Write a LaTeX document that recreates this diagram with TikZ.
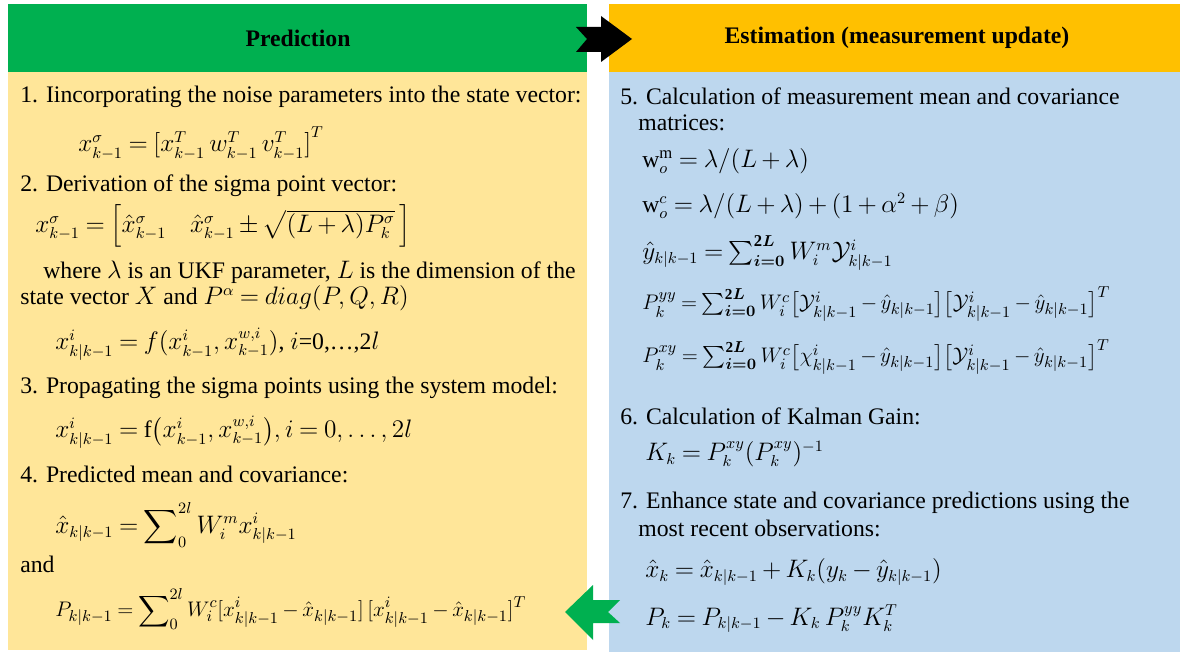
\documentclass[tikz,border=0pt]{standalone}
\usepackage{amsmath,amssymb}
\usepackage{fontspec}
\setmainfont{Liberation Serif}
\usetikzlibrary{positioning,calc}
\definecolor{predgreen}{HTML}{00B050}
\definecolor{estgold}{HTML}{FFC000}
\definecolor{predbg}{HTML}{FFE699}
\definecolor{estbg}{HTML}{BDD7EE}
\medmuskip=3mu plus 2mu minus 3mu
\thickmuskip=4mu plus 3mu
\tikzset{
  txt/.style={anchor=west,inner sep=0pt,font=\fontsize{13.5}{16}\selectfont},
  longeq/.style={txt,font=\fontsize{12.4}{15}\selectfont},
  hdr/.style={inner sep=0pt,font=\fontsize{13.5}{16}\selectfont\bfseries},
}

\begin{document}
\begin{tikzpicture}[x=0.02cm,y=-0.02cm]
\useasboundingbox[fill=white] (0,0) rectangle (1180,655);
\fill[predgreen] (8,4) rectangle (587,72);
\fill[predbg] (8,72) rectangle (587,650);
\fill[estgold] (609,4) rectangle (1180,72);
\fill[estbg] (609,72) rectangle (1180,652);
\node[hdr] (predtitle) at (298,38) {Prediction};
\node[hdr] (esttitle) at (897,38) {Estimation (measurement update)};
\fill[black] (576,27) -- (601,27) -- (601,16) -- (632,39) -- (601,62) -- (601,52) -- (576,52) -- (587,39) -- cycle;
\fill[predgreen] (565,612) -- (593,585) -- (593,600) -- (620,600) -- (608,612) -- (620,623) -- (593,623) -- (593,640) -- cycle;

\node[txt] (step1) at (20,97) {1. Iincorporating the noise parameters into the state vector:};
\node[txt] (augx) at (78,143) {$x_{k-1}^{\sigma} = \left[x_{k-1}^{T}\, w_{k-1}^{T}\, v_{k-1}^{T}\right]^{T}$};
\node[txt] (step2) at (20,186) {2. Derivation of the sigma point vector:};
\node[txt] (sigma) at (35,226) {$x_{k-1}^{\sigma} = \left[\hat{x}_{k-1}^{\sigma}\quad \hat{x}_{k-1}^{\sigma} \pm \sqrt{(L+\lambda)P_k^{\sigma}}\,\right]$};
\node[txt] (where) at (43,272) {where $\lambda$ is an UKF parameter, $L$ is the dimension of the};
\node[txt] (statevec) at (20,298) {state vector $X$ and $P^{\alpha} = diag(P,Q,R)$};
\node[txt] (fmap) at (55,344) {$x_{k|k-1}^{i} = f(x_{k-1}^{i}, x_{k-1}^{w,i})$, $i$=0,\ldots,2$l$};
\node[txt] (step3) at (20,388) {3. Propagating the sigma points using the system model:};
\node[txt] (prop) at (55,432) {$x_{k|k-1}^{i} = \mathrm{f}\big(x_{k-1}^{i}, x_{k-1}^{w,i}\big), i = 0, \ldots, 2l$};
\node[txt] (step4) at (20,474) {4. Predicted mean and covariance:};
\node[txt] (predmean) at (55,525) {$\hat{x}_{k|k-1} = \displaystyle\sum\nolimits_{0}^{2l} W_i^{m} x_{k|k-1}^{i}$};
\node[txt] (and) at (20,564) {and};
\node[longeq] (predcov) at (55,609) {$P_{k|k-1} = \displaystyle\sum\nolimits_{0}^{2l} W_i^{c}[x_{k|k-1}^{i} - \hat{x}_{k|k-1}]\,[x_{k|k-1}^{i} - \hat{x}_{k|k-1}]^{T}$};

\node[txt] (step5) at (620,96) {5. Calculation of measurement mean and covariance};
\node[txt] (step5b) at (638,123) {matrices:};
\node[txt] (wm) at (642,161) {$\mathrm{w}_o^{\mathrm{m}} = \lambda/(L+\lambda)$};
\node[txt] (wc) at (642,206) {$\mathrm{w}_o^{c} = \lambda/(L+\lambda) + (1+\alpha^2+\beta)$};
\node[txt] (ymean) at (642,253) {$\hat{y}_{k|k-1} = \sum_{\boldsymbol{i=0}}^{\mathbf{2}\boldsymbol{L}} W_i^{m} \mathcal{Y}_{k|k-1}^{i}$};
\node[longeq] (pyy) at (642,304) {$P_k^{yy} = \sum_{\boldsymbol{i=0}}^{\mathbf{2}\boldsymbol{L}} W_i^{c}\big[\mathcal{Y}_{k|k-1}^{i} - \hat{y}_{k|k-1}\big]\big[\mathcal{Y}_{k|k-1}^{i} - \hat{y}_{k|k-1}\big]^{T}$};
\node[longeq] (pxy) at (642,357) {$P_k^{xy} = \sum_{\boldsymbol{i=0}}^{\mathbf{2}\boldsymbol{L}} W_i^{c}\big[\chi_{k|k-1}^{i} - \hat{y}_{k|k-1}\big]\big[\mathcal{Y}_{k|k-1}^{i} - \hat{y}_{k|k-1}\big]^{T}$};
\node[txt] (step6) at (620,416) {6. Calculation of Kalman Gain:};
\node[txt] (gain) at (645,454) {$K_k = P_k^{xy}(P_k^{xy})^{-1}$};
\node[txt] (step7) at (620,503) {7. Enhance state and covariance predictions using the};
\node[txt] (step7b) at (638,528) {most recent observations:};
\node[txt] (xupd) at (645,572) {$\hat{x}_k = \hat{x}_{k|k-1} + K_k(y_k - \hat{y}_{k|k-1})$};
\node[txt] (pupd) at (645,619) {$P_k = P_{k|k-1} - K_k\, P_k^{yy} K_k^{T}$};
\end{tikzpicture}
\end{document}
